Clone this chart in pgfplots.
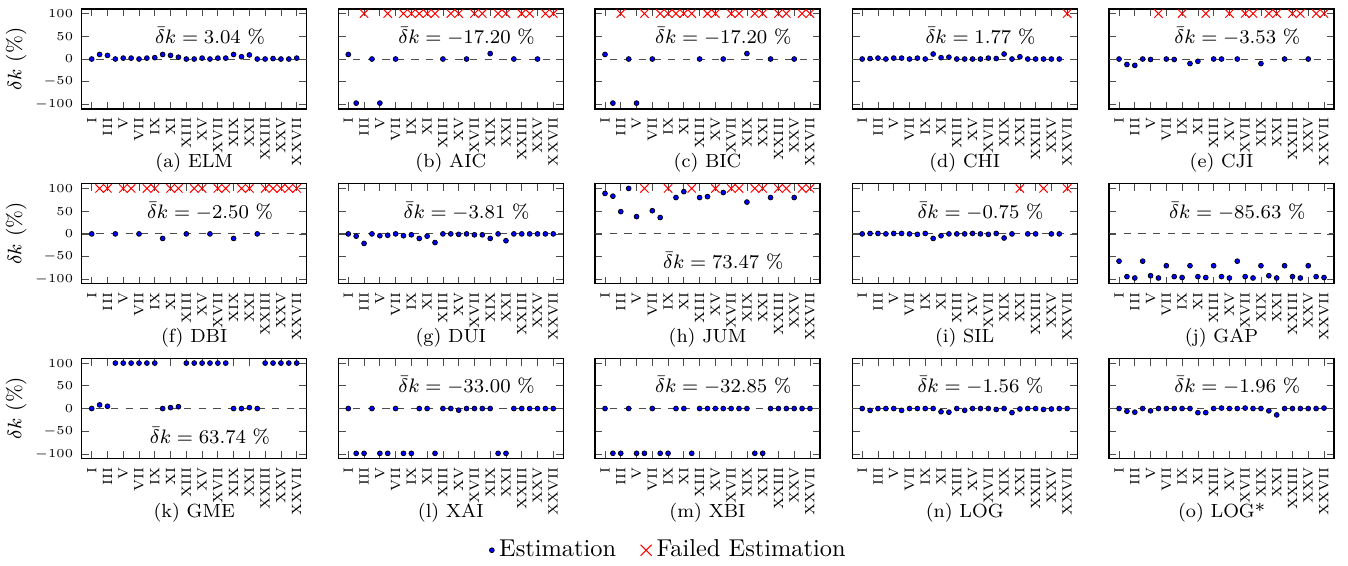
\documentclass[border=0pt]{standalone}
\usepackage{pgfplots}
\pgfplotsset{compat=1.18}

\pgfplotsset{
  pan/.style={
    scale only axis, width=92.25pt, height=41pt, anchor=south west,
    xmin=-0.27, xmax=28.27, ymin=-110, ymax=110,
    xtick={1,3,...,27},
    xticklabels={I,III,V,VII,IX,XI,XIII,XV,XVII,XIX,XXI,XXIII,XXV,XXVII},
    xticklabel style={rotate=90, anchor=east, font=\fontsize{5.5}{6}\selectfont},
    ytick={-100,-50,0,50,100}, yticklabels={},
    yticklabel style={font=\fontsize{5.5}{6}\selectfont},
    major tick length=3pt,
    tick style={black!70, line width=0.3pt},
    axis line style={line width=0.45pt},
  },
  firstcol/.style={yticklabel={$\pgfmathprintnumber{\tick}$}},
  est/.style={only marks, mark=*, mark size=1pt,
    mark options={draw=black, fill=blue, line width=0.3pt}},
  fail/.style={only marks, mark=x, mark size=2.4pt, red,
    mark options={line width=0.4pt}},
}
\newcommand\zline{\draw[dashed, black!70, line width=0.4pt] (axis cs:-0.27,0) -- (axis cs:28.27,0);}
\newcommand\mlab[2][50]{\node[font=\fontsize{7.8}{9}\selectfont] at (axis cs:16,#1) {$\bar{\delta}k = #2\ \%$};}
\newcommand\subcap[2]{\node[anchor=base, font=\fontsize{7.8}{9}\selectfont] at ([yshift=-24pt]#1.south) {#2};}

\begin{document}
\begin{tikzpicture}
\useasboundingbox (0,0) rectangle (552.68pt,-232.06pt);

% ---- row 1
\begin{axis}[pan, firstcol, name=a, at={(33.5pt,-44.7pt)}]
\zline
\addplot[est] coordinates {(1,0)(2,10)(3,8)(4,0)(5,2)(6,2)(7,0)(8,2)(9,3)(10,10)(11,8)(12,4)(13,0)(14,0)(15,2)(16,0)(17,2)(18,2)(19,10)(20,5)(21,9)(22,0)(23,0)(24,1)(25,0)(26,0)(27,2)};
\mlab{3.04}
\end{axis}

\begin{axis}[pan, name=b, at={(138.7pt,-44.7pt)}]
\zline
\addplot[est] coordinates {(1,10)(2,-97)(4,0)(5,-97)(7,0)(13,0)(16,0)(19,12)(22,0)(25,0)};
\addplot[fail] coordinates {(3,100)(6,100)(8,100)(9,100)(10,100)(11,100)(12,100)(14,100)(15,100)(17,100)(18,100)(20,100)(21,100)(23,100)(24,100)(26,100)(27,100)};
\mlab{-17.20}
\end{axis}

\begin{axis}[pan, name=c, at={(243.95pt,-44.7pt)}]
\zline
\addplot[est] coordinates {(1,10)(2,-97)(4,0)(5,-97)(7,0)(13,0)(16,0)(19,12)(22,0)(25,0)};
\addplot[fail] coordinates {(3,100)(6,100)(8,100)(9,100)(10,100)(11,100)(12,100)(14,100)(15,100)(17,100)(18,100)(20,100)(21,100)(23,100)(24,100)(26,100)(27,100)};
\mlab{-17.20}
\end{axis}

\begin{axis}[pan, name=d, at={(349.4pt,-44.7pt)}]
\zline
\addplot[est] coordinates {(1,0)(2,1)(3,2)(4,0)(5,2)(6,2)(7,0)(8,2)(9,0)(10,11)(11,3)(12,4)(13,0)(14,0)(15,0)(16,0)(17,2)(18,1)(19,11)(20,0)(21,5)(22,0)(23,0)(24,0)(25,0)(26,0)};
\addplot[fail] coordinates {(27,100)};
\mlab{1.77}
\end{axis}

\begin{axis}[pan, name=e, at={(454.7pt,-44.7pt)}]
\zline
\addplot[est] coordinates {(1,0)(2,-12)(3,-14)(4,0)(5,-1)(7,0)(8,-1)(10,-10)(11,-5)(13,0)(14,0)(16,0)(19,-10)(22,0)(25,0)};
\addplot[fail] coordinates {(6,100)(9,100)(12,100)(15,100)(17,100)(18,100)(20,100)(21,100)(23,100)(24,100)(26,100)(27,100)};
\mlab{-3.53}
\end{axis}

% ---- row 2
\begin{axis}[pan, firstcol, name=f, at={(33.5pt,-116.4pt)}]
\zline
\addplot[est] coordinates {(1,0)(4,0)(7,0)(10,-10)(13,0)(16,0)(19,-10)(22,0)};
\addplot[fail] coordinates {(2,100)(3,100)(5,100)(6,100)(8,100)(9,100)(11,100)(12,100)(14,100)(15,100)(17,100)(18,100)(20,100)(21,100)(23,100)(24,100)(25,100)(26,100)(27,100)};
\mlab{-2.50}
\end{axis}

\begin{axis}[pan, name=g, at={(138.7pt,-116.4pt)}]
\zline
\addplot[est] coordinates {(1,0)(2,-5)(3,-21)(4,0)(5,-4)(6,-3)(7,0)(8,-4)(9,-2)(10,-10)(11,-5)(12,-19)(13,0)(14,0)(15,-1)(16,0)(17,-2)(18,-2)(19,-10)(20,0)(21,-15)(22,0)(23,0)(24,0)(25,0)(26,0)(27,0)};
\mlab{-3.81}
\end{axis}

\begin{axis}[pan, name=h, at={(243.95pt,-116.4pt)}]
\zline
\addplot[est] coordinates {(1,89)(2,83)(3,49)(4,100)(5,38)(7,51)(8,36)(10,80)(11,93)(13,80)(14,82)(16,91)(19,70)(22,80)(25,80)};
\addplot[fail] coordinates {(6,100)(9,100)(12,100)(15,100)(17,100)(18,100)(20,100)(21,100)(23,100)(24,100)(26,100)(27,100)};
\mlab[-60]{73.47}
\end{axis}

\begin{axis}[pan, name=i, at={(349.4pt,-116.4pt)}]
\zline
\addplot[est] coordinates {(1,0)(2,1)(3,1)(4,0)(5,1)(6,1)(7,0)(8,-1)(9,1)(10,-10)(11,-4)(12,0)(13,0)(14,0)(15,1)(16,0)(17,-1)(18,1)(19,-9)(20,0)(22,0)(23,0)(25,0)(26,0)};
\addplot[fail] coordinates {(21,100)(24,100)(27,100)};
\mlab{-0.75}
\end{axis}

\begin{axis}[pan, name=j, at={(454.7pt,-116.4pt)}]
\zline
\addplot[est] coordinates {(1,-60)(2,-94)(3,-97)(4,-60)(5,-92)(6,-97)(7,-70)(8,-94)(9,-96)(10,-70)(11,-94)(12,-96)(13,-70)(14,-94)(15,-97)(16,-60)(17,-94)(18,-97)(19,-70)(20,-92)(21,-97)(22,-70)(23,-94)(24,-97)(25,-70)(26,-94)(27,-96)};
\mlab{-85.63}
\end{axis}

% ---- row 3
\begin{axis}[pan, firstcol, name=k, at={(33.5pt,-188pt)}]
\zline
\addplot[est] coordinates {(1,0)(2,8)(3,5)(4,100)(5,100)(6,100)(7,100)(8,100)(9,100)(10,0)(11,2)(12,4)(13,100)(14,100)(15,100)(16,100)(17,100)(18,100)(19,0)(20,0)(21,2)(22,0)(23,100)(24,100)(25,100)(26,100)(27,100)};
\mlab[-60]{63.74}
\end{axis}

\begin{axis}[pan, name=l, at={(138.7pt,-188pt)}]
\zline
\addplot[est] coordinates {(1,0)(2,-98.6)(3,-98.6)(4,0)(5,-98.6)(6,-98.6)(7,0)(8,-98.6)(9,-98.6)(10,0)(11,0)(12,-98.6)(13,0)(14,0)(15,-3.6)(16,0)(17,0)(18,0)(19,0)(20,-98.6)(21,-98.6)(22,0)(23,0)(24,0)(25,0)(26,0)(27,0)};
\mlab{-33.00}
\end{axis}

\begin{axis}[pan, name=m, at={(243.95pt,-188pt)}]
\zline
\addplot[est] coordinates {(1,0)(2,-98.5)(3,-98.5)(4,0)(5,-98.5)(6,-98.5)(7,0)(8,-98.5)(9,-98.5)(10,0)(11,0)(12,-98.5)(13,0)(14,0)(15,0)(16,0)(17,0)(18,0)(19,0)(20,-98.5)(21,-98.5)(22,0)(23,0)(24,0)(25,0)(26,0)(27,0)};
\mlab{-32.85}
\end{axis}

\begin{axis}[pan, name=n, at={(349.4pt,-188pt)}]
\zline
\addplot[est] coordinates {(1,0)(2,-4)(3,0)(4,0)(5,0)(6,-4)(7,0)(8,0)(9,0)(10,0)(11,-7)(12,-8)(13,0)(14,-4)(15,0)(16,0)(17,0)(18,-2)(19,0)(20,-9)(21,-1)(22,0)(23,0)(24,-2)(25,-1)(26,0)(27,0)};
\mlab{-1.56}
\end{axis}

\begin{axis}[pan, name=o, at={(454.7pt,-188pt)}]
\zline
\addplot[est] coordinates {(1,0)(2,-6)(3,-8)(4,0)(5,-5)(6,0)(7,0)(8,0)(9,0)(10,0)(11,-9)(12,-9)(13,0)(14,1)(15,0)(16,0)(17,1)(18,0)(19,0)(20,-5)(21,-14)(22,0)(23,0)(24,0)(25,0)(26,0)(27,1)};
\mlab{-1.96}
\end{axis}

% ---- captions and y labels
\subcap{a}{(a) ELM}\subcap{b}{(b) AIC}\subcap{c}{(c) BIC}\subcap{d}{(d) CHI}\subcap{e}{(e) CJI}
\subcap{f}{(f) DBI}\subcap{g}{(g) DUI}\subcap{h}{(h) JUM}\subcap{i}{(i) SIL}\subcap{j}{(j) GAP}
\subcap{k}{(k) GME}\subcap{l}{(l) XAI}\subcap{m}{(m) XBI}\subcap{n}{(n) LOG}\subcap{o}{(o) LOG*}
\foreach \yy in {-24.2pt,-95.8pt,-167.4pt}
  \node[rotate=90, font=\fontsize{8.5}{10}\selectfont] at (6.6pt,\yy) {$\delta k$ (\%)};

% ---- legend
\begin{axis}[hide axis, scale only axis, width=10pt, height=10pt, anchor=center,
  at={(274.7pt,-225.6pt)}, xmin=0, xmax=1, ymin=0, ymax=1,
  legend columns=2,
  legend style={at={(0.5,0.5)}, anchor=center, draw=none, fill=none,
    font=\fontsize{10}{12}\selectfont,
    /tikz/every even column/.append style={column sep=8pt}},
  legend image code/.code={\draw[#1] plot coordinates {(0pt,0pt)};}]
\addlegendimage{est}
\addlegendentry{Estimation}
\addlegendimage{fail, mark size=3.2pt}
\addlegendentry{Failed Estimation}
\end{axis}
\end{tikzpicture}
\end{document}
